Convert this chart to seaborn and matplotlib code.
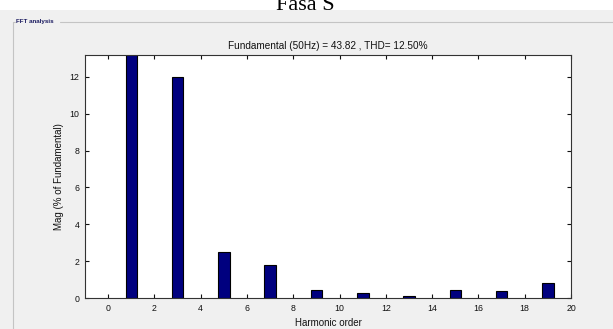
import matplotlib
matplotlib.use("Agg")
import matplotlib.pyplot as plt
import seaborn as sns
import pandas as pd
from matplotlib.patches import Rectangle
from matplotlib.lines import Line2D

harmonics = [1, 3, 5, 7, 9, 11, 13, 15, 17, 19]
magnitude = [100.0, 12.0, 2.48, 1.77, 0.43, 0.27, 0.13, 0.43, 0.36, 0.83]
x_ticks = [0, 2, 4, 6, 8, 10, 12, 14, 16, 18, 20]
y_ticks = [0, 2, 4, 6, 8, 10, 12]
title_text = "Fundamental (50Hz) = 43.82 , THD= 12.50%"

sns.set_theme(style="white")
plt.rcParams['font.family'] = ['Liberation Sans', 'DejaVu Sans']

W, H = 613, 329
fig = plt.figure(figsize=(W / 100, H / 100), dpi=100)
fig.patch.set_facecolor("white")

# gray panel
fig.patches.append(Rectangle((0, 0), 1, 1 - 10 / H, transform=fig.transFigure,
                             facecolor="#f0f0f0", edgecolor="none", zorder=-5))
# group box lines
for xs, ys in [([60 / W, 1.0], [1 - 22 / H, 1 - 22 / H]),
               ([13 / W, 13 / W], [0, 1 - 22 / H]),
               ([13 / W, 15 / W], [1 - 22 / H, 1 - 22 / H])]:
    fig.lines.append(Line2D(xs, ys, transform=fig.transFigure,
                            color="#c4c4c4", lw=0.8, zorder=-4))
fig.text(16 / W, 1 - 22 / H, "FFT analysis", fontsize=4.5, color="#1a1a60",
         va="center", ha="left", weight="bold")

# top title, cut at the top edge as in the reference
fig.text(305 / W, 1 - 9.5 / H, "Fasa S", fontsize=16, family="Liberation Serif",
         ha="center", va="baseline", color="black")

ax = fig.add_axes([85 / W, 1 - 298 / H, (571 - 85) / W, (298 - 54.7) / H], zorder=2)
ax.set_facecolor("white")

df = pd.DataFrame({"Harmonic": harmonics, "Mag": magnitude})
sns.barplot(data=df, x="Harmonic", y="Mag", native_scale=True, width=0.25,
            color="#00007f", edgecolor="black", linewidth=0.8, saturation=1, ax=ax)

ax.set_xlim(-1, 20)
ax.set_ylim(0, 13.2)
ax.set_xticks(x_ticks)
ax.set_yticks(y_ticks)
ax.set_xticklabels([str(t) for t in x_ticks], fontsize=6.3)
ax.set_yticklabels([str(t) for t in y_ticks], fontsize=6.3)
ax.tick_params(direction="in", length=3, width=0.8, top=True, right=True,
               bottom=True, left=True, pad=4, colors="#111111")
for s in ax.spines.values():
    s.set_color("#333333")
    s.set_linewidth(0.8)
ax.set_xlabel("Harmonic order", fontsize=7, labelpad=4, color="#111111")
ax.set_ylabel("Mag (% of Fundamental)", fontsize=7, labelpad=4, color="#111111")
ax.set_title(title_text, fontsize=7.2, pad=4, color="#111111")

fig.savefig("out.png", dpi=100, facecolor=fig.get_facecolor())
